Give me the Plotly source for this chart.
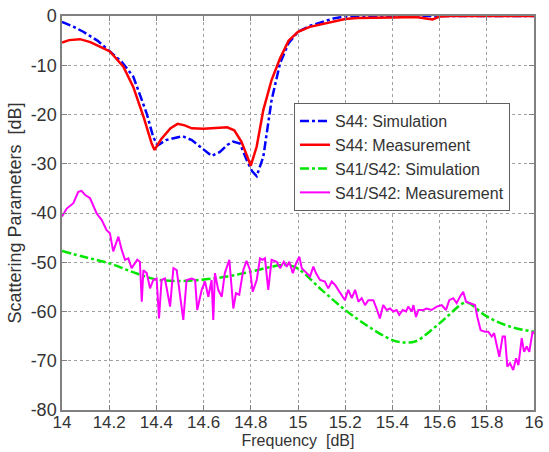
import plotly.graph_objects as go

# S44 simulation (blue dash-dot)
s44_sim_f = [14.0, 14.05, 14.09, 14.15, 14.203, 14.253, 14.302, 14.33, 14.359, 14.386, 14.405, 14.44, 14.48, 14.51,
             14.55, 14.585, 14.634, 14.669, 14.70, 14.725, 14.754, 14.782, 14.805, 14.825, 14.853, 14.888, 14.924,
             14.96, 15.0, 15.05, 15.1, 15.15, 15.2, 15.3, 15.5, 15.8, 16.0]
s44_sim_db = [-1.2, -2.2, -3.2, -5.0, -7.2, -9.3, -12.3, -15.8, -19.8, -24.5, -26.3, -25.2, -24.7, -24.4,
              -25.2, -26.5, -28.4, -27.6, -26.2, -25.5, -25.9, -29.2, -31.5, -32.5, -28.6, -17.1, -9.6,
              -5.5, -3.2, -2.0, -1.2, -0.5, -0.1, 0.0, 0.0, 0.0, 0.0]

# S44 measurement (red solid)
s44_meas_f = [14.0, 14.03, 14.076, 14.12, 14.147, 14.203, 14.26, 14.302, 14.345, 14.38, 14.392, 14.42, 14.46, 14.49,
              14.52, 14.55, 14.6, 14.65, 14.7, 14.73, 14.76, 14.785, 14.80, 14.825, 14.853, 14.888, 14.924,
              14.96, 15.0, 15.05, 15.1, 15.15, 15.2, 15.25, 15.3, 15.4, 15.5, 15.54, 15.57, 15.6, 15.65, 16.0]
s44_meas_db = [-5.4, -4.9, -4.7, -5.3, -5.9, -7.2, -10.3, -14.4, -20.4, -25.9, -27.2, -25.0, -22.8, -21.9,
               -22.2, -22.8, -22.9, -22.8, -22.6, -23.2, -25.5, -28.5, -30.4, -26.5, -19.1, -13.0, -8.6,
               -5.0, -3.2, -2.2, -1.7, -1.1, -0.6, -0.4, -0.4, -0.3, -0.2, -0.4, -0.7, -0.1, 0.0, 0.0]

# S41/S42 simulation (green dash-dot)
s41_sim_f = [14.0, 14.1, 14.2, 14.3, 14.4, 14.5, 14.6, 14.7, 14.8, 14.9, 14.95, 15.0, 15.1, 15.2, 15.3, 15.4,
             15.45, 15.5, 15.6, 15.7, 15.72, 15.8, 15.9, 16.0]
s41_sim_db = [-47.7, -49.0, -50.2, -52.0, -53.5, -53.8, -53.5, -52.9, -51.9, -50.8, -50.5, -51.3, -55.6, -59.7,
              -63.1, -65.8, -66.3, -66.0, -62.4, -58.3, -58.2, -61.0, -63.1, -64.1]

# S41/S42 measurement (magenta solid)
s41_meas_f = [14.0, 14.02, 14.048, 14.069, 14.083, 14.097, 14.119, 14.133, 14.147, 14.168, 14.189, 14.203,
              14.217, 14.239, 14.253, 14.267, 14.281, 14.295, 14.319, 14.33, 14.338, 14.345, 14.359, 14.373,
              14.387, 14.401, 14.411, 14.422, 14.436, 14.458, 14.472, 14.486, 14.5, 14.514, 14.528, 14.55,
              14.564, 14.573, 14.592, 14.606, 14.62, 14.634, 14.641, 14.648, 14.662, 14.677, 14.69, 14.709,
              14.726, 14.737, 14.751, 14.768, 14.782, 14.797, 14.808, 14.825, 14.839, 14.85, 14.86, 14.874,
              14.888, 14.91, 14.924, 14.94, 14.952, 14.963, 14.978, 14.992, 15.006, 15.016, 15.037, 15.051,
              15.065, 15.076, 15.093, 15.114, 15.128, 15.143, 15.157, 15.171, 15.185, 15.199, 15.213, 15.228,
              15.242, 15.256, 15.27, 15.284, 15.298, 15.319, 15.333, 15.347, 15.361, 15.376, 15.39, 15.404,
              15.418, 15.429, 15.444, 15.458, 15.467, 15.482, 15.489, 15.5, 15.51, 15.531, 15.545, 15.566,
              15.588, 15.609, 15.627, 15.641, 15.658, 15.672, 15.686, 15.7, 15.712, 15.729, 15.75, 15.76,
              15.774, 15.792, 15.806, 15.821, 15.831, 15.842, 15.853, 15.867, 15.877, 15.887, 15.898, 15.912,
              15.924, 15.934, 15.948, 15.958, 15.969, 15.98, 15.994, 16.0]
s41_meas_db = [-40.7, -39.1, -38.0, -35.7, -35.5, -36.3, -37.0, -38.7, -40.1, -41.4, -43.5, -44.1,
               -47.8, -44.8, -47.5, -49.5, -49.2, -51.2, -49.5, -49.9, -58.0, -51.6, -52.2, -55.3,
               -53.6, -53.3, -61.4, -53.6, -53.3, -59.0, -51.2, -51.6, -56.3, -61.7, -53.6, -53.3,
               -53.6, -59.7, -55.6, -53.9, -57.0, -53.6, -61.7, -52.2, -55.6, -57.0, -52.2, -49.5,
               -59.4, -56.3, -56.6, -51.6, -49.7, -51.6, -56.0, -53.6, -49.2, -49.5, -49.2, -55.6,
               -49.5, -49.9, -51.2, -49.9, -50.9, -49.9, -52.2, -50.2, -48.9, -51.2, -52.2, -52.9,
               -50.9, -52.2, -53.6, -53.9, -55.3, -53.9, -54.6, -55.6, -56.6, -57.7, -55.6, -57.3,
               -55.6, -58.0, -57.3, -58.7, -57.7, -57.7, -59.4, -61.4, -58.7, -59.7, -59.4, -60.0,
               -59.7, -60.7, -59.7, -60.0, -59.0, -60.0, -58.7, -61.1, -59.7, -59.7, -59.4, -59.7,
               -59.0, -58.7, -59.7, -57.7, -57.3, -58.3, -57.0, -56.0, -58.0, -58.3, -58.7, -61.1,
               -63.8, -64.1, -64.1, -65.1, -64.4, -66.8, -69.2, -65.1, -65.1, -71.2, -70.5, -71.9,
               -69.5, -70.9, -65.4, -68.2, -67.1, -68.2, -64.1, -64.5]

x_ticks = [14, 14.2, 14.4, 14.6, 14.8, 15, 15.2, 15.4, 15.6, 15.8, 16]
x_tick_labels = ["14", "14.2", "14.4", "14.6", "14.8", "15", "15.2", "15.4", "15.6", "15.8", "16"]
y_ticks = [-80, -70, -60, -50, -40, -30, -20, -10, 0]
y_tick_labels = ["-80", "-70", "-60", "-50", "-40", "-30", "-20", "-10", "0"]

FONT = "Liberation Sans, Arial, sans-serif"
TXT = "#333333"

fig = go.Figure()
fig.add_trace(go.Scatter(x=s44_sim_f, y=s44_sim_db, mode="lines", name="S44: Simulation",
                         line=dict(color="rgb(0,0,255)", width=2.5, dash="dashdot"), cliponaxis=False))
fig.add_trace(go.Scatter(x=s44_meas_f, y=s44_meas_db, mode="lines", name="S44: Measurement",
                         line=dict(color="rgb(255,0,0)", width=2.5), cliponaxis=False))
fig.add_trace(go.Scatter(x=s41_sim_f, y=s41_sim_db, mode="lines", name="S41/S42: Simulation",
                         line=dict(color="rgb(0,230,0)", width=2.5, dash="dashdot", shape="spline")))
fig.add_trace(go.Scatter(x=s41_meas_f, y=s41_meas_db, mode="lines", name="S41/S42: Measurement",
                         line=dict(color="rgb(255,0,255)", width=2)))

axis_common = dict(
    showline=True, mirror="ticks", linecolor="#808080", linewidth=1.5,
    showgrid=True, gridcolor="#a0a0a0", griddash="dot", gridwidth=1,
    ticks="inside", ticklen=5, tickcolor="#808080", zeroline=False, automargin=False,
)

fig.update_layout(
    width=549, height=452,
    margin=dict(l=62, r=15, t=16, b=42),
    paper_bgcolor="white", plot_bgcolor="white",
    font=dict(family=FONT, size=17, color=TXT),
    xaxis=dict(range=[14, 16], tickvals=x_ticks, ticktext=x_tick_labels,
               tickfont=dict(family=FONT, size=17, color=TXT), ticklabelstandoff=-4,
               title=dict(text="Frequency  [dB]", standoff=3,
                          font=dict(size=16, color=TXT)), **axis_common),
    yaxis=dict(range=[-80, 0], tickvals=y_ticks, ticktext=y_tick_labels,
               tickfont=dict(family=FONT, size=18, color=TXT),
               title=dict(text="Scattering Parameters  [dB]", standoff=4,
                          font=dict(size=18, color=TXT)), **axis_common),
    legend=dict(x=0.4915, y=0.779, xanchor="left", yanchor="top",
                bgcolor="white", bordercolor="#606060", borderwidth=1,
                font=dict(size=16, color=TXT), itemwidth=30,
                tracegroupgap=0),
    showlegend=True,
)

fig.write_html("out.html")
